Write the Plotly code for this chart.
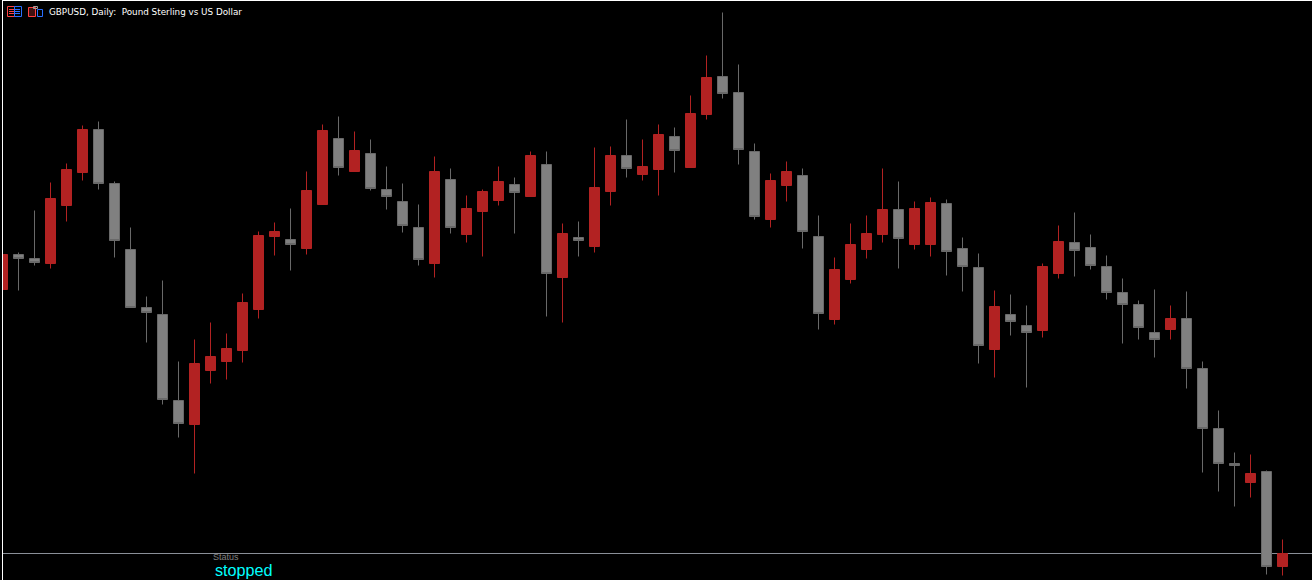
import plotly.graph_objects as go

# GBPUSD daily candles (prices)
opens = [1.2711,1.2746,1.2742,1.2737,1.2795,1.2828,1.2871,1.2817,1.2751,1.2693,1.2686,1.2600,1.2576,1.2630,1.2639,1.2650,1.2691,1.2764,1.2761,1.2752,1.2796,1.2862,1.2829,1.2847,1.2811,1.2799,1.2773,1.2737,1.2821,1.2766,1.2789,1.2800,1.2816,1.2804,1.2836,1.2723,1.2763,1.2754,1.2809,1.2845,1.2826,1.2831,1.2864,1.2833,1.2886,1.2924,1.2908,1.2849,1.2781,1.2815,1.2825,1.2764,1.2681,1.2721,1.2751,1.2766,1.2791,1.2756,1.2756,1.2797,1.2752,1.2733,1.2651,1.2686,1.2675,1.2670,1.2727,1.2758,1.2753,1.2734,1.2708,1.2696,1.2668,1.2671,1.2682,1.2632,1.2572,1.2537,1.2518,1.2529,1.2434]
highs = [1.2746,1.2748,1.2790,1.2818,1.2837,1.2875,1.2879,1.2819,1.2773,1.2704,1.2720,1.2639,1.2661,1.2678,1.2667,1.2707,1.2769,1.2778,1.2792,1.2829,1.2876,1.2884,1.2869,1.2861,1.2834,1.2817,1.2796,1.2844,1.2832,1.2805,1.2811,1.2834,1.2823,1.2849,1.2849,1.2777,1.2779,1.2853,1.2854,1.2881,1.2861,1.2876,1.2873,1.2905,1.2945,1.2988,1.2936,1.2857,1.2827,1.2839,1.2832,1.2785,1.2743,1.2777,1.2785,1.2832,1.2819,1.2799,1.2803,1.2801,1.2763,1.2747,1.2710,1.2706,1.2695,1.2737,1.2775,1.2788,1.2766,1.2745,1.2722,1.2700,1.2711,1.2695,1.2709,1.2639,1.2590,1.2548,1.2546,1.2530,1.2461]
lows = [1.2711,1.2710,1.2735,1.2732,1.2779,1.2820,1.2811,1.2743,1.2693,1.2658,1.2596,1.2563,1.2527,1.2617,1.2621,1.2638,1.2682,1.2745,1.2730,1.2746,1.2796,1.2825,1.2829,1.2810,1.2791,1.2768,1.2735,1.2723,1.2767,1.2758,1.2744,1.2795,1.2767,1.2804,1.2684,1.2678,1.2744,1.2748,1.2795,1.2823,1.2820,1.2805,1.2828,1.2833,1.2881,1.2902,1.2836,1.2781,1.2773,1.2799,1.2752,1.2671,1.2676,1.2717,1.2742,1.2758,1.2732,1.2751,1.2744,1.2725,1.2709,1.2637,1.2623,1.2665,1.2613,1.2663,1.2722,1.2724,1.2731,1.2701,1.2657,1.2661,1.2643,1.2661,1.2612,1.2528,1.2509,1.2494,1.2503,1.2426,1.2425]
closes = [1.2746,1.2742,1.2738,1.2802,1.2831,1.2871,1.2817,1.2760,1.2693,1.2688,1.2601,1.2577,1.2637,1.2644,1.2652,1.2698,1.2765,1.2769,1.2756,1.2810,1.2870,1.2833,1.2850,1.2812,1.2804,1.2775,1.2741,1.2829,1.2773,1.2792,1.2809,1.2819,1.2808,1.2845,1.2727,1.2767,1.2760,1.2813,1.2845,1.2832,1.2834,1.2866,1.2850,1.2887,1.2923,1.2907,1.2851,1.2784,1.2820,1.2829,1.2769,1.2687,1.2731,1.2756,1.2767,1.2791,1.2762,1.2792,1.2798,1.2749,1.2734,1.2655,1.2694,1.2679,1.2668,1.2734,1.2759,1.2750,1.2735,1.2708,1.2696,1.2673,1.2661,1.2682,1.2632,1.2572,1.2537,1.2535,1.2527,1.2434,1.2447]
title_text = "GBPUSD, Daily:  Pound Sterling vs US Dollar"
status_label = "Status"
status_value = "stopped"
level_price = 1.2447

W, H, ML, MT = 1312, 580, 3, 1
indices = list(range(len(opens)))

def px(x):
    return (x - ML) / (W - ML)

def py(y):
    return 1 - (y - MT) / (H - MT)

RED = "#B22222"
GREY = "#808080"
GREY_EDGE = "#696969"

fig = go.Figure(go.Candlestick(
    x=indices, open=opens, high=highs, low=lows, close=closes,
    increasing=dict(line=dict(color=RED, width=1), fillcolor=RED),
    decreasing=dict(line=dict(color=GREY_EDGE, width=1), fillcolor=GREY),
    whiskerwidth=0, hoverinfo="skip", showlegend=False,
))

shapes = [
    dict(type="line", xref="paper", yref="y", x0=0, x1=1, y0=level_price, y1=level_price,
         line=dict(color="#8A8F98", width=1), layer="below"),
]

def rect(x0, y0, x1, y1, color, fill=None):
    shapes.append(dict(type="rect", xref="paper", yref="paper",
                       x0=px(x0), x1=px(x1), y0=py(y1), y1=py(y0),
                       line=dict(color=color, width=1),
                       fillcolor=fill or "rgba(0,0,0,0)", layer="above"))

def bar(x0, x1, y, color):
    shapes.append(dict(type="line", xref="paper", yref="paper",
                       x0=px(x0), x1=px(x1), y0=py(y), y1=py(y),
                       line=dict(color=color, width=1), layer="above"))

ICON_RED = "#FF4040"
ICON_BLUE = "#2A6FFF"
rect(7.5, 6.5, 14.5, 16.5, ICON_RED)
rect(14.5, 6.5, 21.5, 16.5, ICON_BLUE)
for yy in (9.5, 11.5, 13.5):
    bar(9, 14, yy, ICON_RED)
    bar(15, 20, yy, ICON_BLUE)
rect(28.5, 7.5, 35.5, 16.5, ICON_RED, "#401010")
rect(37.5, 9.5, 42.5, 16.5, ICON_BLUE)
rect(33.5, 6.5, 37.5, 8.5, "#A0A0A0")

annotations = [
    dict(text=title_text, xref="paper", yref="paper", x=px(47), y=py(12), xanchor="left", yanchor="middle",
         showarrow=False, font=dict(family="DejaVu Sans", size=8.8, color="#FFFFFF")),
    dict(text=status_label, xref="paper", yref="paper", x=px(211), y=py(557), xanchor="left", yanchor="middle",
         showarrow=False, font=dict(family="Liberation Sans", size=9, color="#808080")),
    dict(text=status_value, xref="paper", yref="paper", x=px(213), y=py(569.5), xanchor="left", yanchor="middle",
         showarrow=False, font=dict(family="Liberation Sans", size=16.2, color="#00FFFF")),
]

fig.update_layout(
    width=W, height=H, margin=dict(l=ML, r=0, t=MT, b=0, pad=0),
    paper_bgcolor="#000000", plot_bgcolor="#000000", showlegend=False,
    boxgap=0.375, boxgroupgap=0, shapes=shapes, annotations=annotations,
)
fig.update_xaxes(range=[(ML - 2.5) / 16, (W - 2.5) / 16], rangeslider_visible=False, showgrid=False, zeroline=False,
                 showticklabels=False, ticks="", showline=True, linecolor="#FFFFFF", linewidth=1, side="top")
fig.update_yaxes(range=[1.3 - (H - 0.5) / 10000, 1.3 - (MT - 0.5) / 10000], showgrid=False, zeroline=False,
                 showticklabels=False, ticks="", showline=True, linecolor="#FFFFFF", linewidth=1)

fig.write_html("out.html", config=dict(displayModeBar=False),
               post_script="document.body.style.margin='0';document.body.style.background='#000';")
